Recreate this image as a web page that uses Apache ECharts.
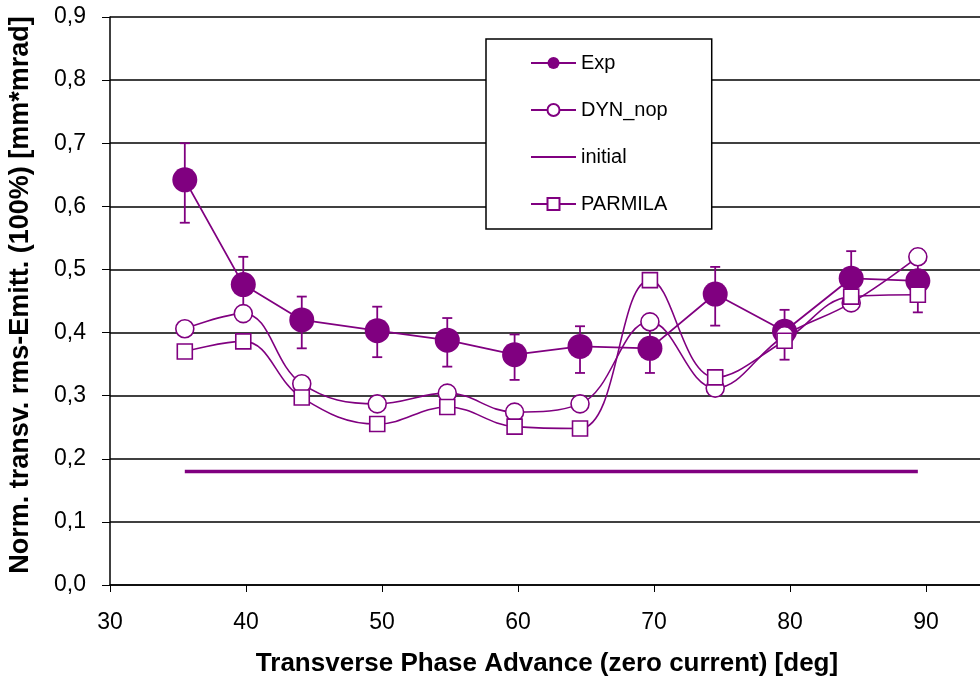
<!DOCTYPE html>
<html>
<head>
<meta charset="utf-8">
<script src="https://cdn.jsdelivr.net/npm/echarts@6/dist/echarts.min.js"></script>
<style>
  html, body { margin: 0; padding: 0; background: #fff; }
  #chart { width: 980px; height: 684px; }
</style>
</head>
<body>
<div id="chart"></div>
<script>
// phase advance [deg]
const phaseAdv = [35.5, 39.8, 44.1, 49.65, 54.8, 59.75, 64.56, 69.7, 74.5, 79.6, 84.5, 89.4]
// emittance values [mm*mrad]
const expVals = [0.642, 0.476, 0.420, 0.403, 0.388, 0.365, 0.378, 0.375, 0.461, 0.402, 0.486, 0.482]
const expLow = [0.574, 0.432, 0.375, 0.361, 0.346, 0.325, 0.336, 0.336, 0.411, 0.357, 0.443, 0.432]
const expHigh = [0.700, 0.520, 0.457, 0.441, 0.423, 0.397, 0.410, 0.414, 0.504, 0.436, 0.529, 0.532]
const dynVals = [0.406, 0.430, 0.319, 0.287, 0.304, 0.274, 0.287, 0.417, 0.312, 0.395, 0.447, 0.520]
const parmilaVals = [0.370, 0.386, 0.297, 0.255, 0.282, 0.251, 0.248, 0.483, 0.329, 0.387, 0.457, 0.460]
const initialX = [35.5, 89.4]
const initialVals = [0.18, 0.18]
const yTicks = [0, 0.1, 0.2, 0.3, 0.4, 0.5, 0.6, 0.7, 0.8, 0.9]

const PURPLE = '#800080'
const FONT = 'Liberation Sans, Arial, sans-serif'

const pairs = (xs, ys) => xs.map((x, i) => [x, ys[i]])

const chart = echarts.init(document.getElementById('chart'))

const option = {
  animation: false,
  backgroundColor: '#fff',
  textStyle: { fontFamily: FONT },
  grid: {
    left: 110,
    top: 17,
    right: -82,
    bottom: 99,
    containLabel: false,
    outerBoundsMode: 'none'
  },
  legend: {
    data: ['Exp', 'DYN_nop', 'initial', 'PARMILA'],
    orient: 'vertical',
    left: 486,
    top: 39,
    padding: [14, 44, 15, 44],
    itemWidth: 45,
    itemHeight: 15,
    itemGap: 27,
    backgroundColor: '#fff',
    borderColor: '#000',
    borderWidth: 1.5,
    borderRadius: 0,
    textStyle: { color: '#000', fontSize: 20, fontFamily: FONT }
  },
  xAxis: {
    type: 'value',
    min: 30,
    max: 100,
    interval: 10,
    axisLine: { onZero: false, lineStyle: { color: '#000', width: 1.5 } },
    axisTick: { show: true, length: 7, lineStyle: { color: '#000' } },
    splitLine: { show: false },
    axisLabel: { color: '#000', fontSize: 23, margin: 26 },
    name: 'Transverse Phase Advance (zero current) [deg]',
    nameLocation: 'middle',
    nameGap: 66,
    nameTextStyle: { color: '#000', fontSize: 26, fontWeight: 'bold', padding: [0, 78, 0, 0] }
  },
  yAxis: {
    type: 'value',
    min: yTicks[0],
    max: yTicks[yTicks.length - 1],
    interval: 0.1,
    axisLine: { show: true, lineStyle: { color: '#000', width: 1.5 } },
    axisTick: { show: true, length: 8, lineStyle: { color: '#000' } },
    splitLine: { show: true, lineStyle: { color: '#000', width: 1.5 } },
    axisLabel: {
      color: '#000',
      fontSize: 23,
      margin: 24,
      formatter: v => v.toFixed(1).replace('.', ',')
    },
    name: 'Norm. transv. rms-Emitt. (100%) [mm*mrad]',
    nameLocation: 'middle',
    nameGap: 76,
    nameTextStyle: { color: '#000', fontSize: 27, fontWeight: 'bold', padding: [0, 0, 0, 12] }
  },
  series: [
    {
      name: 'errbars',
      type: 'custom',
      z: 2,
      data: phaseAdv.map((x, i) => [x, expLow[i], expHigh[i]]),
      encode: { x: 0, y: [1, 2] },
      renderItem: (params, api) => {
        const lo = api.coord([api.value(0), api.value(1)])
        const hi = api.coord([api.value(0), api.value(2)])
        const w = 5
        const style = { stroke: PURPLE, lineWidth: 1.8 }
        return {
          type: 'group',
          children: [
            { type: 'line', shape: { x1: lo[0], y1: lo[1], x2: hi[0], y2: hi[1] }, style },
            { type: 'line', shape: { x1: lo[0] - w, y1: lo[1], x2: lo[0] + w, y2: lo[1] }, style },
            { type: 'line', shape: { x1: hi[0] - w, y1: hi[1], x2: hi[0] + w, y2: hi[1] }, style }
          ]
        }
      }
    },
    {
      name: 'Exp',
      type: 'line',
      z: 3,
      data: pairs(phaseAdv, expVals),
      symbol: 'circle',
      symbolSize: 25,
      lineStyle: { color: PURPLE, width: 1.8 },
      itemStyle: { color: PURPLE, borderColor: PURPLE, borderWidth: 0 }
    },
    {
      name: 'DYN_nop',
      type: 'line',
      z: 4,
      smooth: 0.4,
      data: pairs(phaseAdv, dynVals),
      symbol: 'circle',
      symbolSize: 18,
      lineStyle: { color: PURPLE, width: 1.6 },
      itemStyle: { color: '#fff', borderColor: PURPLE, borderWidth: 1.6 }
    },
    {
      name: 'initial',
      type: 'line',
      z: 4,
      data: pairs(initialX, initialVals),
      showSymbol: false,
      symbol: 'none',
      lineStyle: { color: PURPLE, width: 3.5 },
      itemStyle: { color: PURPLE, opacity: 0 }
    },
    {
      name: 'PARMILA',
      type: 'line',
      z: 5,
      smooth: 0.4,
      data: pairs(phaseAdv, parmilaVals),
      symbol: 'rect',
      symbolSize: 15,
      lineStyle: { color: PURPLE, width: 1.6 },
      itemStyle: { color: '#fff', borderColor: PURPLE, borderWidth: 1.6 }
    }
  ]
}

chart.setOption(option)
</script>
</body>
</html>
